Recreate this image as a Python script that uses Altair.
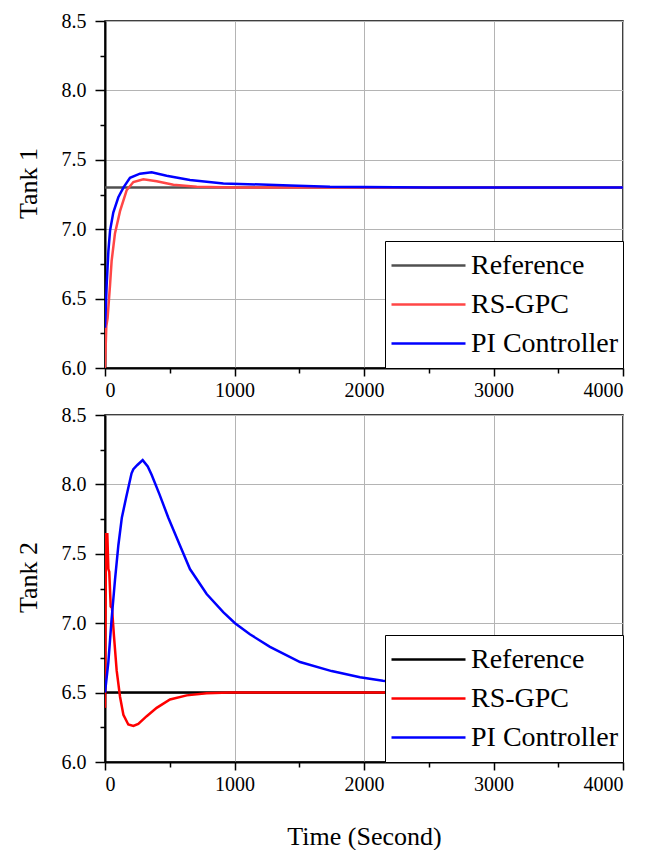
import altair as alt
import pandas as pd

series_names = ["Reference", "RS-GPC", "PI Controller"]

# ---- Tank 1 ----
t1_ref_t = [0, 4000]
t1_ref_y = [7.3, 7.3]
t1_gpc_t = [0, 10, 20, 39, 51, 77, 116, 167, 219, 296, 399, 528, 708, 1000, 4000]
t1_gpc_y = [6.0, 6.30, 6.36, 6.60, 6.77, 6.97, 7.13, 7.28, 7.34, 7.36, 7.345, 7.32, 7.305, 7.30, 7.30]
t1_pi_t = [0, 13, 26, 39, 64, 103, 142, 193, 270, 360, 476, 656, 914, 1429, 1737, 2500, 4000]
t1_pi_y = [6.29, 6.60, 6.84, 6.99, 7.12, 7.23, 7.30, 7.37, 7.40, 7.41, 7.385, 7.355, 7.33, 7.315, 7.305, 7.30, 7.30]

# ---- Tank 2 ----
t2_ref_t = [0, 4000]
t2_ref_y = [6.5, 6.5]
t2_gpc_t = [0, 8, 18, 26, 33, 44, 54, 69, 90, 116, 142, 180, 219, 257, 322, 399, 502, 631, 785, 965, 4000]
t2_gpc_y = [6.39, 7.64, 7.64, 7.39, 7.37, 7.12, 7.11, 6.91, 6.66, 6.47, 6.34, 6.27, 6.26, 6.275, 6.33, 6.39, 6.45, 6.48, 6.495, 6.50, 6.50]
t2_pi_t = [0, 26, 51, 77, 103, 130, 162, 205, 219, 250, 291, 330, 360, 420, 489, 579, 656, 785, 913, 1004, 1119, 1274, 1506, 1750, 1969, 2146, 2500, 3000, 3500, 4000]
t2_pi_y = [6.50, 6.72, 7.03, 7.31, 7.56, 7.76, 7.90, 8.08, 8.11, 8.14, 8.175, 8.13, 8.07, 7.93, 7.76, 7.56, 7.39, 7.21, 7.08, 7.00, 6.92, 6.83, 6.72, 6.655, 6.61, 6.585, 6.55, 6.53, 6.515, 6.505]

x_ticks = [0, 500, 1000, 1500, 2000, 2500, 3000, 3500, 4000]
y_ticks = [6.0, 6.25, 6.5, 6.75, 7.0, 7.25, 7.5, 7.75, 8.0, 8.25, 8.5]

top_colors = ["#505050", "#ff4646", "#0000ff"]
bot_colors = ["#000000", "#ff0000", "#0000ff"]


def frame(parts):
    rows = []
    for name, ts, ys in parts:
        for t, y in zip(ts, ys):
            rows.append({"t": t, "v": y, "series": name})
    return pd.DataFrame(rows)


df1 = frame([("Reference", t1_ref_t, t1_ref_y), ("RS-GPC", t1_gpc_t, t1_gpc_y), ("PI Controller", t1_pi_t, t1_pi_y)])
df2 = frame([("Reference", t2_ref_t, t2_ref_y), ("RS-GPC", t2_gpc_t, t2_gpc_y), ("PI Controller", t2_pi_t, t2_pi_y)])

FONT = "Liberation Serif"

major_x = "datum.value % 1000 === 0"
major_y = "round(datum.value * 4) % 2 === 0"


def panel(df, colors, ytitle, xtitle):
    xaxis = alt.Axis(
        values=x_ticks,
        labelExpr=f"{major_x} ? datum.label : ''",
        format="d",
        tickSize={"condition": {"test": major_x, "value": 8}, "value": 5},
        gridOpacity={"condition": {"test": major_x, "value": 1}, "value": 0},
        labelPadding=4,
        titlePadding=29,
        labelFont=FONT,
        titleFont=FONT,
    )
    if xtitle:
        x = alt.X("t:Q", scale=alt.Scale(domain=[0, 4000], nice=False), axis=xaxis, title=xtitle)
    else:
        x = alt.X("t:Q", scale=alt.Scale(domain=[0, 4000], nice=False), axis=xaxis, title=None)
    yaxis = alt.Axis(
        values=y_ticks,
        labelExpr=f"{major_y} ? format(datum.value, '.1f') : ''",
        tickSize={"condition": {"test": major_y, "value": 10}, "value": 5},
        gridOpacity={"condition": {"test": major_y, "value": 1}, "value": 0},
        labelPadding=9,
        titlePadding=20,
        titleY=162,
        labelFont=FONT,
        titleFont=FONT,
    )
    return alt.Chart(df).mark_line(strokeWidth=2.5, clip=True).encode(
        x=x,
        y=alt.Y("v:Q", scale=alt.Scale(domain=[6.0, 8.5], nice=False, zero=False), axis=yaxis, title=ytitle),
        color=alt.Color(
            "series:N",
            scale=alt.Scale(domain=series_names, range=colors),
            legend=alt.Legend(title=None, labelFont=FONT),
        ),
    ).properties(width=518, height=347)


top = panel(df1, top_colors, "Tank 1", None)
bot = panel(df2, bot_colors, "Tank 2", "Time (Second)")

chart = alt.vconcat(top, bot, spacing=3).resolve_scale(color="independent").resolve_legend(color="independent").properties(
    padding={"left": 14, "top": 10, "right": 0, "bottom": 0}
).configure(
    font=FONT
).configure_view(
    stroke="black", strokeWidth=1.5
).configure_axis(
    labelFont=FONT, labelFontSize=20, labelColor="black",
    titleFont=FONT, titleFontSize=26, titleFontWeight="normal", titleColor="black",
    domainColor="black", domainWidth=2,
    tickColor="black", tickWidth=1.5,
    gridColor="#b4b4b4", gridWidth=1,
).configure_legend(
    orient="bottom-right", offset=0,
    fillColor="white", strokeColor="black", strokeWidth=1, cornerRadius=0,
    padding=5, symbolType="stroke", symbolSize=5476, symbolStrokeWidth=2.5,
    clipHeight=39, labelFont=FONT, labelFontSize=28, labelColor="black",
    labelOffset=4, rowPadding=0, labelLimit=400,
)

chart.save("out.html", embed_options={"renderer": "svg", "actions": False})
